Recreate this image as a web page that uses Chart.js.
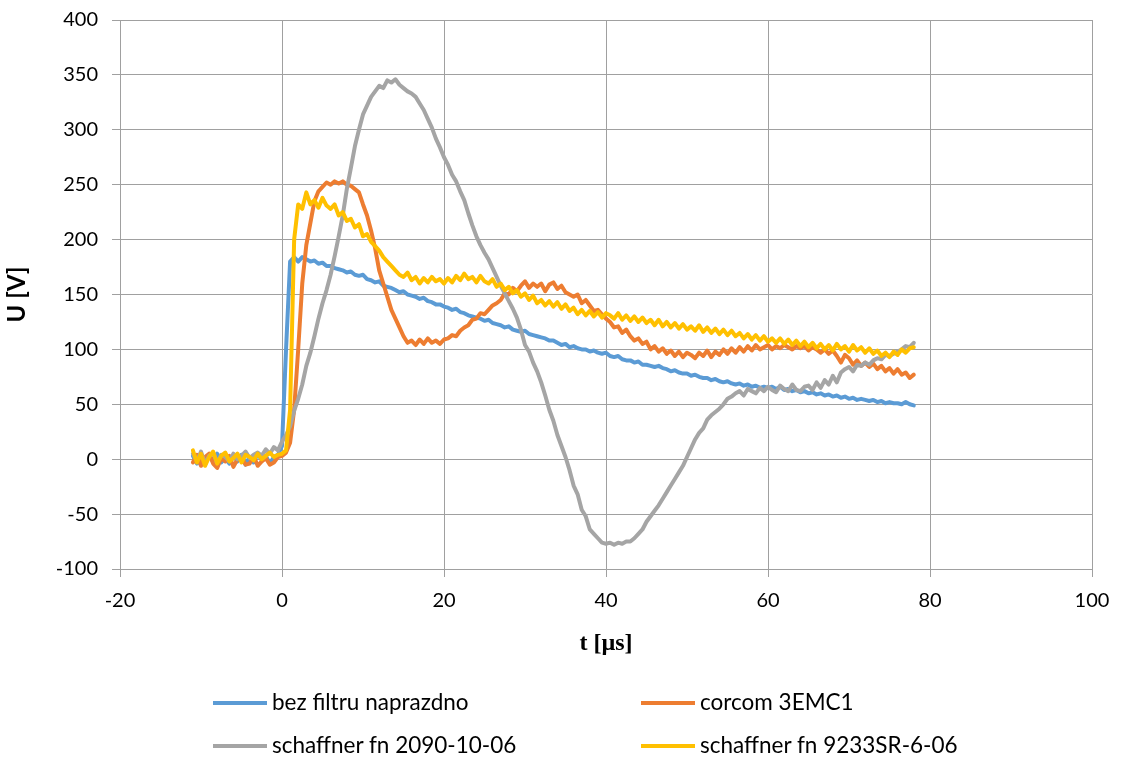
<!DOCTYPE html>
<html>
<head>
<meta charset="utf-8">
<script src="https://cdn.jsdelivr.net/npm/chart.js@4.4.1/dist/chart.umd.min.js"></script>
<style>
	body { margin: 0; background: #ffffff; }
	#wrap { position: relative; width: 1125px; height: 763px; }
	.legend-item { position: absolute; font-family: Lato, 'Open Sans', sans-serif; font-size: 22.5px; color: #000; white-space: nowrap; line-height: 26px; }
	.legend-key { display: inline-block; width: 54px; height: 4px; vertical-align: middle; margin-right: 5px; position: relative; top: -1px; }
</style>
</head>
<body>
<div id="wrap">
	<canvas id="line-graph-canvas" width="1125" height="763"></canvas>
</div>
<script>
// sample times in µs
let times = [
	-11, -10.5, -10, -9.5, -9, -8.5, -8, -7.5, -7, -6.5, -6, -5.5, -5, -4.5, -4, -3.5, -3, -2.5, -2, -1.5, -1, -0.5,
	0, 0.5, 1, 1.5, 2, 2.5, 3, 3.5, 4, 4.5, 5, 5.5, 6, 6.5, 7, 7.5, 8, 8.5, 9, 9.5,
	10, 10.5, 11, 11.5, 12, 12.5, 13, 13.5, 14, 14.5, 15, 15.5, 16, 16.5, 17, 17.5, 18, 18.5, 19, 19.5,
	20, 20.5, 21, 21.5, 22, 22.5, 23, 23.5, 24, 24.5, 25, 25.5, 26, 26.5, 27, 27.5, 28, 28.5, 29, 29.5,
	30, 30.5, 31, 31.5, 32, 32.5, 33, 33.5, 34, 34.5, 35, 35.5, 36, 36.5, 37, 37.5, 38, 38.5, 39, 39.5,
	40, 40.5, 41, 41.5, 42, 42.5, 43, 43.5, 44, 44.5, 45, 45.5, 46, 46.5, 47, 47.5, 48, 48.5, 49, 49.5,
	50, 50.5, 51, 51.5, 52, 52.5, 53, 53.5, 54, 54.5, 55, 55.5, 56, 56.5, 57, 57.5, 58, 58.5, 59, 59.5,
	60, 60.5, 61, 61.5, 62, 62.5, 63, 63.5, 64, 64.5, 65, 65.5, 66, 66.5, 67, 67.5, 68, 68.5, 69, 69.5,
	70, 70.5, 71, 71.5, 72, 72.5, 73, 73.5, 74, 74.5, 75, 75.5, 76, 76.5, 77, 77.5, 78
];

let series_names = ['bez filtru naprazdno', 'corcom 3EMC1', 'schaffner fn 2090-10-06', 'schaffner fn 9233SR-6-06'];
let line_colors = ['#5b9bd5', '#ed7d31', '#a5a5a5', '#ffc000'];

let u_bez_filtru = [
	3, -4, 2, -5, 4, -2, 5, -3, 1, -4, 3, -2, 4, -5, 2, -3, 5, -1, 3, -4, 2, 4,
	12, 100, 180, 184, 180, 184, 182, 180, 181, 178, 179, 176, 176, 174, 173, 172, 170, 171, 168, 167,
	168, 164, 163, 161, 162, 158, 157, 156, 154, 152, 153, 150, 149, 148, 146, 147, 144, 143, 141, 141,
	139, 138, 136, 137, 134, 133, 131, 130, 129, 128, 126, 127, 124, 123, 122, 120, 121, 118, 117, 116,
	117, 114, 113, 112, 111, 110, 108, 108, 106, 104, 105, 102, 103, 101, 100, 100, 98, 99, 97, 96,
	97, 94, 93, 94, 91, 90, 90, 88, 89, 86, 86, 85, 84, 85, 83, 82, 80, 81, 79, 78,
	78, 76, 77, 75, 74, 74, 72, 73, 71, 70, 71, 69, 68, 69, 67, 68, 66, 67, 65, 66,
	65, 66, 64, 66, 63, 64, 62, 63, 61, 62, 60, 61, 59, 60, 58, 59, 57, 58, 56, 57,
	55, 56, 54, 55, 54, 53, 54, 52, 53, 51, 52, 51, 51, 50, 52, 50, 49
];

let u_corcom = [
	-3, 4, -6, 2, 5, -4, -8, 1, -2, 3, -7, 0, 2, -5, -4, 3, -6, -2, 1, -5, -3, 2,
	3, 6, 15, 45, 100, 160, 195, 215, 235, 244, 248, 252, 250, 253, 251, 253, 250, 249, 246, 243,
	232, 222, 208, 192, 172, 160, 148, 136, 128, 120, 112, 106, 108, 104, 109, 105, 110, 106, 108, 105,
	109, 110, 113, 112, 117, 120, 122, 127, 128, 133, 132, 136, 140, 142, 145, 151, 150, 156, 153, 158,
	162, 156, 160, 157, 160, 153, 159, 161, 155, 158, 152, 150, 148, 150, 142, 145, 140, 135, 136, 132,
	128, 125, 120, 121, 115, 118, 112, 108, 110, 105, 107, 100, 103, 98, 101, 96, 99, 94, 98, 93,
	97, 95, 92, 97, 94, 99, 93, 98, 95, 100, 96, 101, 97, 102, 98, 103, 99, 104, 100, 102,
	104, 100, 103, 101, 104, 102, 100, 103, 101, 103, 99, 102, 100, 97, 100, 96, 99, 94, 88, 95,
	92, 86, 90, 85, 88, 84, 87, 82, 85, 80, 83, 78, 82, 77, 79, 74, 77
];

let u_schaffner_2090 = [
	5, -2, 7, -4, 3, 6, -3, 4, 2, -2, 5, 0, 3, 7, 1, 4, 6, 3, 9, 5, 11, 8,
	16, 22, 30, 44, 55, 68, 85, 97, 112, 128, 142, 154, 168, 185, 203, 222, 246, 265, 285, 300,
	314, 322, 330, 335, 340, 338, 345, 343, 346, 341, 338, 335, 333, 330, 324, 318, 310, 302, 292, 284,
	275, 268, 259, 253, 244, 236, 224, 213, 203, 195, 188, 182, 174, 166, 158, 151, 144, 137, 129, 118,
	104, 98, 88, 80, 70, 58, 45, 35, 22, 12, 2, -10, -24, -32, -46, -52, -64, -68, -72, -76,
	-77, -76, -78, -76, -77, -75, -75, -72, -68, -64, -57, -52, -47, -42, -36, -30, -24, -18, -12, -6,
	2, 10, 18, 24, 28, 36, 40, 43, 46, 50, 55, 57, 60, 62, 58, 64, 62, 60, 65, 62,
	66, 63, 61, 67, 64, 62, 68, 63, 62, 66, 67, 63, 70, 65, 72, 68, 76, 70, 79, 82,
	84, 80, 86, 85, 88, 86, 90, 92, 91, 95, 94, 96, 98, 100, 103, 102, 106
];

let u_schaffner_9233 = [
	8, -3, 5, -6, 2, 7, -4, 3, 6, -2, 1, 5, -3, 4, 2, -1, 5, 0, 3, 6, 2, 4,
	5, 8, 45, 200, 232, 228, 243, 232, 236, 229, 238, 231, 228, 232, 222, 225, 217, 219, 211, 214,
	203, 205, 198, 194, 190, 184, 180, 176, 172, 168, 166, 170, 163, 166, 160, 165, 161, 166, 162, 164,
	160, 165, 161, 167, 163, 169, 164, 166, 161, 167, 162, 160, 164, 157, 160, 154, 157, 151, 154, 148,
	151, 145, 149, 142, 145, 140, 144, 139, 143, 137, 141, 135, 138, 132, 136, 131, 135, 130, 134, 129,
	133, 131, 128, 133, 127, 131, 126, 130, 125, 129, 124, 127, 122, 127, 121, 125, 120, 124, 119, 123,
	118, 121, 117, 122, 116, 120, 115, 119, 114, 118, 113, 117, 112, 115, 110, 114, 109, 113, 108, 112,
	107, 110, 106, 110, 105, 109, 104, 108, 103, 107, 102, 106, 101, 105, 100, 104, 99, 105, 100, 103,
	98, 104, 99, 102, 97, 101, 96, 99, 94, 97, 93, 98, 95, 100, 97, 101, 102
];

let all_series = [u_bez_filtru, u_corcom, u_schaffner_2090, u_schaffner_9233];

//turn value arrays into x/y points for the linear x axis
let formatted_dataset = [];
for (var i = 0; i < all_series.length; i++) {
	formatted_dataset.push({
		label: series_names[i],
		data: all_series[i].map((v, j) => ({x: times[j], y: v})),
		borderColor: line_colors[i],
		backgroundColor: line_colors[i],
		borderWidth: 4,
		order: all_series.length - 1 - i   //later series drawn on top, like excel
	});
};

let grid_color = '#a0a0a0';
let tick_font = {family: 'Lato, "Open Sans", sans-serif', size: 20};

let canvas = document.getElementById('line-graph-canvas');
let context = canvas.getContext('2d');
let line_graph = new Chart(context, {
	type: 'line',
	data: { datasets: formatted_dataset },
	options: {
		responsive: false,
		animation: false,
		layout: { padding: { left: 0, top: 14, right: 33, bottom: 94 } },
		plugins: {
			legend: { display: false },
			tooltip: { enabled: false }
		},
		elements: {
			point: { radius: 0 },
			line: { tension: 0, borderJoinStyle: 'round', borderCapStyle: 'round' }
		},
		scales: {
			x: {
				type: 'linear',
				min: -20,
				max: 100,
				ticks: { stepSize: 20, color: '#000', font: tick_font, padding: 12, maxRotation: 0 },
				grid: { color: grid_color, tickLength: 8 },
				border: { color: grid_color },
				title: {
					display: true,
					text: 't [µs]',
					color: '#000',
					font: {family: '"Liberation Serif", serif', size: 24, weight: 'bold'},
					padding: { top: 11, bottom: 11 }
				},
				afterFit: function(scale) { scale.height = 100; }
			},
			y: {
				min: -100,
				max: 400,
				//small lineHeight keeps the top label overflow from pushing the plot down
				ticks: { stepSize: 50, color: '#000', font: {family: 'Lato, "Open Sans", sans-serif', size: 20, lineHeight: 0.6}, padding: 14 },
				grid: { color: grid_color, tickLength: 8 },
				border: { color: grid_color },
				title: {
					display: true,
					text: 'U [V]',
					color: '#000',
					font: {family: 'Lato, "Open Sans", sans-serif', size: 24, weight: 'bold'},
					padding: { top: 3, bottom: 3 }
				},
				afterFit: function(scale) { scale.width = 120; }
			}
		}
	}
});

//legend in two columns under the chart
let wrap = document.getElementById('wrap');
let legend_spots = [[213, 689], [641, 689], [213, 732], [641, 732]];
for (var i = 0; i < series_names.length; i++) {
	wrap.insertAdjacentHTML('beforeend',
		`<div class='legend-item' style='left:${legend_spots[i][0]}px; top:${legend_spots[i][1]}px'>
			<span class='legend-key' style='background-color:${line_colors[i]};'></span>${series_names[i]}
		</div>`);
};
</script>
</body>
</html>
